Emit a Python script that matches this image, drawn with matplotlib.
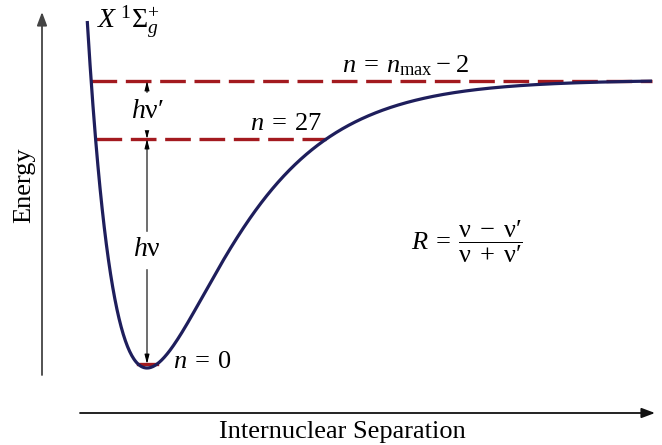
import numpy as np
import matplotlib
matplotlib.use("Agg")
import matplotlib.pyplot as plt

plt.rcParams['mathtext.fontset'] = 'custom'
plt.rcParams['mathtext.rm'] = 'Liberation Serif'
plt.rcParams['mathtext.it'] = 'Liberation Serif:italic'
plt.rcParams['font.family'] = 'Liberation Serif'

# Morse potential parameters (arbitrary units)
well_depth = 288.0
r_eq = 147.0
a_width = 0.0124
E_curve_top = 347.0
r_end = 652.0

# vibrational levels (energy above the well bottom)
level_names = ['n = 0', 'n = 27', 'n = n_max - 2']
level_energy = [4.0, 229.0, 287.0]

curve_color = '#1e1e5c'
level_color = '#a31a1f'


def morse(r):
    return well_depth * (1 - np.exp(-a_width * (r - r_eq))) ** 2


def left_turn(E):
    return r_eq - np.log(1 + np.sqrt(E / well_depth)) / a_width


def right_turn(E):
    return r_eq - np.log(1 - np.sqrt(E / well_depth)) / a_width


fig = plt.figure(figsize=(6.62, 4.45), dpi=100)
ax = fig.add_axes([0, 0, 1, 1])
ax.set_xlim(0, 662)
ax.set_ylim(-77, 368)
ax.axis('off')

# axes arrows
ax.annotate('', xy=(42, 356), xytext=(42, -7),
            arrowprops=dict(arrowstyle='-|>,head_length=0.8,head_width=0.3',
                            color='#444444', lw=1.3, shrinkA=0, shrinkB=0))
ax.annotate('', xy=(655, -45), xytext=(80, -45),
            arrowprops=dict(arrowstyle='-|>,head_length=0.8,head_width=0.3',
                            color='#111111', lw=1.3, shrinkA=0, shrinkB=0))
ax.text(24, 183, 'Energy', rotation=90, fontsize=19, ha='center', va='center')
ax.text(342, -64, 'Internuclear Separation', fontsize=19, ha='center', va='center')

# levels
E0, E27, Etop = level_energy
ax.plot([left_turn(E0), right_turn(E0)], [E0, E0], color=level_color, lw=2.4)
ax.plot([left_turn(E27), right_turn(E27)], [E27, E27], color=level_color, lw=2.4,
        dashes=(7.7, 2.6))
ax.plot([left_turn(Etop), r_end], [Etop, Etop], color=level_color, lw=2.4,
        dashes=(7.7, 2.6))

# potential curve
r = np.linspace(left_turn(E_curve_top), r_end, 800)
ax.plot(r, morse(r), color=curve_color, lw=2.3, solid_capstyle='butt')

# energy gap arrows
astyle = dict(arrowstyle='<|-|>,head_length=0.55,head_width=0.14', color='black',
              lw=0.8, shrinkA=0, shrinkB=0)
ax.annotate('', xy=(r_eq, Etop), xytext=(r_eq, E27), arrowprops=astyle)
ax.annotate('', xy=(r_eq, E27), xytext=(r_eq, E0), arrowprops=astyle)

nu_p = '\\mathrm{\\nu\u2032}'
ax.text(r_eq + 1, 257, '$h' + nu_p + '$', fontsize=20, ha='center', va='center',
        backgroundcolor='white')
ax.text(r_eq, 118, r'$h\mathrm{\nu}$', fontsize=20, ha='center', va='center',
        backgroundcolor='white')

ax.text(286, 244, r'$n\:=\:27$', fontsize=19, ha='center', va='center')
ax.text(405, 302, r'$n\:=\:n_{\mathrm{max}}\:-\:2$', fontsize=19, ha='center', va='center')
ax.text(173, 6, r'$n\:=\:0$', fontsize=19, ha='left', va='center')
ax.text(97, 346, r'$X\;^{1}\Sigma_{g}^{+}$', fontsize=20, ha='left', va='center')
ax.text(467, 126,
        '$R\\:=\\:\\dfrac{\\mathrm{\\nu}\\;-\\;' + nu_p + '}{\\mathrm{\\nu}\\;+\\;' + nu_p + '}$',
        fontsize=19, ha='center', va='center')

fig.savefig('out.png', dpi=100)
